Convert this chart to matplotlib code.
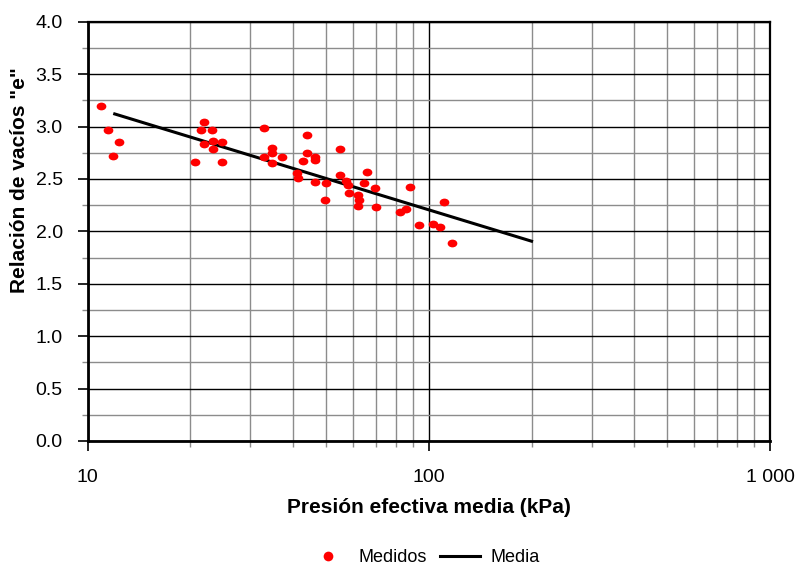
import matplotlib
matplotlib.use("Agg")
import matplotlib.pyplot as plt
import numpy as np
from matplotlib.path import Path
from matplotlib.transforms import Affine2D
from matplotlib.ticker import FixedLocator, FixedFormatter, MultipleLocator, NullFormatter, FormatStrFormatter
from matplotlib.lines import Line2D

plt.rcParams['font.family'] = ['Liberation Sans', 'DejaVu Sans']

# Measured points (Medidos)
presion = [10.94, 11.49, 12.38, 11.86, 21.92, 21.43, 23.09, 23.25, 24.79, 21.92,
           23.25, 20.67, 24.69, 32.86, 43.91, 34.62, 34.75, 32.86, 34.62, 37.18,
           43.91, 42.83, 46.25, 46.44, 54.97, 41.13, 41.24, 46.35, 49.82, 54.75,
           57.24, 57.79, 65.96, 64.38, 69.48, 49.48, 58.18, 61.81, 62.36, 61.81,
           69.80, 88.14, 82.41, 85.82, 93.49, 102.7, 107.7, 110.4, 117.0]
vacios = [3.194, 2.965, 2.856, 2.717, 3.041, 2.970, 2.965, 2.865, 2.850, 2.831,
          2.783, 2.665, 2.665, 2.984, 2.917, 2.793, 2.745, 2.713, 2.650, 2.710,
          2.745, 2.675, 2.713, 2.684, 2.783, 2.554, 2.512, 2.474, 2.462, 2.541,
          2.478, 2.443, 2.570, 2.465, 2.417, 2.300, 2.364, 2.350, 2.300, 2.242,
          2.233, 2.421, 2.185, 2.214, 2.061, 2.073, 2.039, 2.281, 1.892]

# Mean line (Media)
media_x = [12.0, 200.0]
media_y = [3.12, 1.906]

x_ticks = [10, 100, 1000]
x_ticklabels = ["10", "100", "1 000"]

fig = plt.figure(figsize=(7.98, 5.68), dpi=100)
ax = fig.add_axes([0.1099, 0.2236, 0.9649 - 0.1099, 0.9618 - 0.2236])

ell = Path.unit_circle().transformed(Affine2D().scale(1.25, 1.0))

ax.plot(presion, vacios, linestyle='none', marker=ell, markersize=7.0,
        color='#ff0000', markeredgewidth=0, zorder=4, clip_on=False)
ax.plot(media_x, media_y, color='black', linewidth=2.2, zorder=3)

ax.set_xscale('log')
ax.set_xlim(10, 1000)
ax.set_ylim(0, 4.0)

ax.xaxis.set_major_locator(FixedLocator(x_ticks))
ax.xaxis.set_major_formatter(FixedFormatter(x_ticklabels))
minors = [m * d for d in (10, 100) for m in range(2, 10)]
ax.xaxis.set_minor_locator(FixedLocator(minors))
ax.xaxis.set_minor_formatter(NullFormatter())

ax.yaxis.set_major_locator(MultipleLocator(0.5))
ax.yaxis.set_minor_locator(MultipleLocator(0.25))
ax.yaxis.set_major_formatter(FormatStrFormatter('%.1f'))

ax.grid(which='major', color='black', linewidth=1.0, zorder=1)
ax.grid(which='minor', color='#8c8c8c', linewidth=1.0, zorder=1)
ax.set_axisbelow(True)

for s in ax.spines.values():
    s.set_linewidth(1.6)
    s.set_color('black')
ax.spines['left'].set_linewidth(2.0)
ax.spines['bottom'].set_linewidth(2.0)

ax.tick_params(which='major', direction='out', length=7, width=1.2, color='black',
               labelsize=14)
ax.tick_params(axis='y', which='major', pad=11)
ax.tick_params(axis='x', which='major', pad=13)
ax.tick_params(which='minor', direction='out', length=4, width=1.0, color='#8c8c8c')

ax.set_xlabel("Presión efectiva media (kPa)", fontsize=15, fontweight='bold', labelpad=9)
fig.text(20 / 798, 1 - 180 / 568, 'Relación de vacíos "e"', rotation=90,
         ha='center', va='center', fontsize=15, fontweight='bold')

handles = [Line2D([], [], linestyle='none', marker='o', markersize=7, color='#ff0000',
                  markeredgewidth=0),
           Line2D([], [], color='black', linewidth=2.2)]
fig.legend(handles, ['Medidos', 'Media'], loc='center', bbox_to_anchor=(424 / 798, 1 - 558 / 568),
           ncol=2, frameon=False, fontsize=13, handlelength=2.2, columnspacing=0.7,
           handletextpad=0.6)

fig.savefig('out.png', dpi=100)
